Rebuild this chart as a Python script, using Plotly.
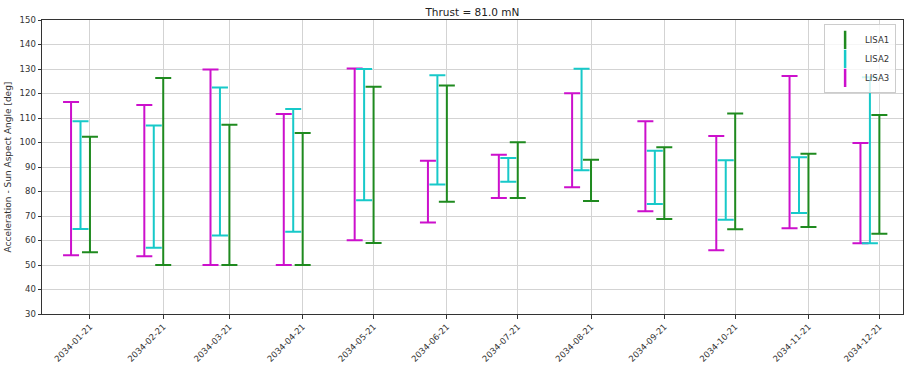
import plotly.graph_objects as go
import pandas as pd

dates = ["2034-01-21", "2034-02-21", "2034-03-21", "2034-04-21", "2034-05-21", "2034-06-21",
         "2034-07-21", "2034-08-21", "2034-09-21", "2034-10-21", "2034-11-21", "2034-12-21"]
tick_labels = dates

lisa1_min = [55.2, 50.0, 50.0, 50.0, 59.0, 75.8, 77.3, 76.1, 68.8, 64.6, 65.5, 62.8]
lisa1_max = [102.3, 126.3, 107.2, 103.9, 122.8, 123.3, 100.1, 93.0, 98.1, 111.8, 95.4, 111.2]

lisa2_min = [64.7, 57.0, 62.0, 63.6, 76.4, 82.9, 84.0, 88.7, 74.9, 68.5, 71.2, 58.9]
lisa2_max = [108.7, 106.9, 122.5, 113.7, 130.0, 127.4, 93.7, 130.1, 96.6, 92.8, 94.0, 126.6]

lisa3_min = [54.0, 53.6, 50.0, 50.0, 60.1, 67.3, 77.3, 81.7, 71.9, 56.0, 65.0, 58.9]
lisa3_max = [116.5, 115.3, 129.8, 111.6, 130.2, 92.5, 95.0, 120.1, 108.7, 102.7, 127.1, 99.8]

series = [
    ("LISA1", lisa1_min, lisa1_max, "#1f8a1f", 0),
    ("LISA2", lisa2_min, lisa2_max, "#17c9c9", -4),
    ("LISA3", lisa3_min, lisa3_max, "#cc10cc", -8),
]

base = pd.to_datetime(dates)
fig = go.Figure()

# range bars
for name, lo, hi, color, off in reversed(series):
    xs = base + pd.Timedelta(days=off)
    fig.add_trace(go.Scatter(
        x=xs, y=lo, mode="markers", name=name, showlegend=False,
        marker=dict(size=1, opacity=0, color=color),
        error_y=dict(type="data", symmetric=False,
                     array=[h - l for h, l in zip(hi, lo)],
                     arrayminus=[0] * len(lo),
                     color=color, thickness=2, width=8),
        hoverinfo="skip",
    ))

# legend entries
for name, lo, hi, color, off in series:
    fig.add_trace(go.Scatter(
        x=[None], y=[None], mode="markers", name=name,
        marker=dict(symbol="line-ns-open", size=13, color=color,
                    line=dict(color=color, width=2.5)),
    ))

axis_common = dict(
    showline=True, mirror=True, linecolor="#333333", linewidth=1,
    ticks="outside", ticklen=3.5, tickcolor="#333333",
    showgrid=True, gridcolor="#d3d3d3", gridwidth=1, zeroline=False,
    tickfont=dict(size=8.5, color="#333333"),
)

fig.update_layout(
    width=905, height=365, autosize=False,
    margin=dict(l=42, r=1, t=20, b=49),
    paper_bgcolor="white", plot_bgcolor="white",
    font=dict(family="DejaVu Sans", color="#222222"),
    title=dict(text="Thrust = 81.0 mN", x=0.522, xanchor="center",
               y=1 - 12 / 365, yanchor="middle", yref="container",
               font=dict(size=10.5, color="#222222")),
    showlegend=True,
    legend=dict(x=0.992, y=0.985, xanchor="right", yanchor="top",
                bgcolor="rgba(255,255,255,0.8)", bordercolor="#cccccc", borderwidth=1,
                font=dict(size=8.5, color="#333333"), itemwidth=30,
                tracegroupgap=0),
    xaxis=dict(
        type="date",
        range=["2033-12-31 17:00", "2034-12-31 00:00"],
        tickvals=dates, ticktext=tick_labels, tickangle=-45,
        **axis_common,
    ),
    yaxis=dict(
        range=[30, 150], dtick=10, tick0=30,
        title=dict(text="Acceleration - Sun Aspect Angle [deg]",
                   font=dict(size=9, color="#333333"), standoff=6),
        **axis_common,
    ),
)

fig.write_html("out.html")
